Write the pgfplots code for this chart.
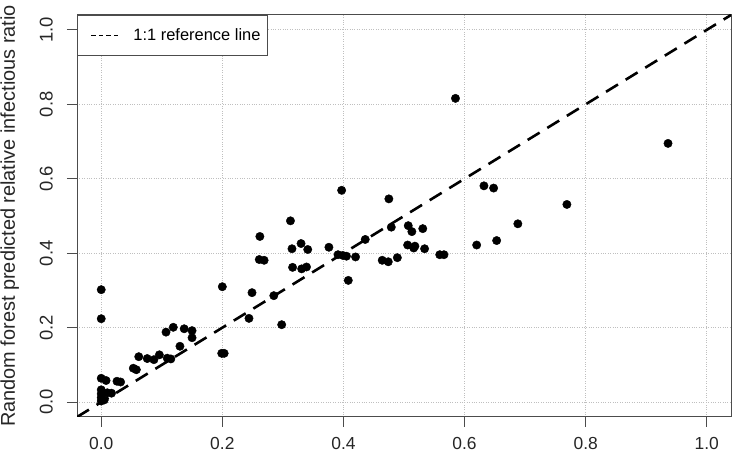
\documentclass[border=0pt]{standalone}
\usepackage{pgfplots}
\pgfplotsset{compat=1.18}
\usepackage{fontspec}
\setmainfont{Liberation Sans}
\begin{document}
\begin{tikzpicture}[x=1bp,y=1bp]
\begin{axis}[
  at={(77bp,37bp)}, anchor=south west,
  width=654bp, height=402bp, scale only axis,
  xmin=-0.04, xmax=1.04, ymin=-0.04, ymax=1.04,
  xtick={0,0.2,0.4,0.6,0.8,1.0}, ytick={0,0.2,0.4,0.6,0.8,1.0},
  xticklabels={0.0,0.2,0.4,0.6,0.8,1.0},
  yticklabels={0.0,0.2,0.4,0.6,0.8,1.0},
  tick align=outside, major tick length=10bp,
  xtick pos=bottom, ytick pos=left,
  tick style={black!70, line width=0.9bp},
  axis line style={black!70, line width=1bp},
  grid=major, grid style={dotted, black!25, line width=0.9bp},
  xticklabel style={font=\fontsize{17.5}{21}\selectfont, anchor=north, inner sep=0pt, text=black!85},
  yticklabel style={font=\fontsize{18.5}{22}\selectfont, rotate=90, anchor=south, inner sep=0pt, text=black!85},
  xticklabel shift=10bp, yticklabel shift=14bp,
  every axis y label/.style={at={(axis description cs:-0.0948,0.5)}, rotate=90, anchor=base, font=\fontsize{20}{24}\selectfont, text=black!85},
  ylabel={Random forest predicted relative infectious ratio},
  legend style={at={(0,1)}, anchor=north west, draw=black!70, line width=0.9bp,
    font=\fontsize{16.5}{19}\selectfont, inner xsep=4bp, inner ysep=10.5bp,
    nodes={inner sep=3bp}, /tikz/every even column/.append style={column sep=9bp}},
  legend cell align=left,
]
\addlegendimage{black, line width=0.8bp, dash pattern=on 4.5bp off 3bp,
  legend image code/.code={\path[draw=none] (0bp,-2bp) rectangle (49bp,2bp); \draw (10bp,0bp) -- (38bp,0bp);}}
\addlegendentry{1:1 reference line}
\addplot[black, line width=2.6bp, dash pattern=on 14bp off 9bp, forget plot]
  coordinates {(-0.04,-0.04) (1.04,1.04)};
\addplot[only marks, mark=*, mark size=4.2bp, black, forget plot] table {
x y
0 0.302
0 0.224
0 0.064
0.008 0.058
0 0.033
0 0.022
0 0.012
0 0.003
0.005 0.006
0.010 0.025
0.017 0.024
0.026 0.056
0.032 0.054
0.053 0.091
0.058 0.087
0.062 0.122
0.076 0.117
0.087 0.114
0.096 0.127
0.107 0.188
0.109 0.118
0.115 0.116
0.119 0.201
0.130 0.150
0.137 0.197
0.150 0.192
0.150 0.173
0.200 0.310
0.199 0.131
0.203 0.131
0.244 0.225
0.249 0.294
0.262 0.445
0.261 0.383
0.269 0.381
0.285 0.286
0.298 0.208
0.3125 0.487
0.315 0.412
0.316 0.362
0.330 0.426
0.331 0.358
0.339 0.363
0.341 0.410
0.376 0.416
0.391 0.396
0.397 0.569
0.399 0.394
0.405 0.392
0.408 0.327
0.420 0.390
0.436 0.437
0.464 0.381
0.474 0.377
0.475 0.546
0.479 0.470
0.489 0.388
0.506 0.422
0.507 0.474
0.513 0.458
0.516 0.414
0.518 0.419
0.531 0.466
0.534 0.412
0.559 0.396
0.566 0.396
0.585 0.816
0.620 0.422
0.632 0.581
0.648 0.575
0.653 0.434
0.688 0.479
0.769 0.531
0.936 0.695
};
\end{axis}
\pgfresetboundingbox
\path[use as bounding box] (0,0) rectangle (733,454);
\end{tikzpicture}
\end{document}
